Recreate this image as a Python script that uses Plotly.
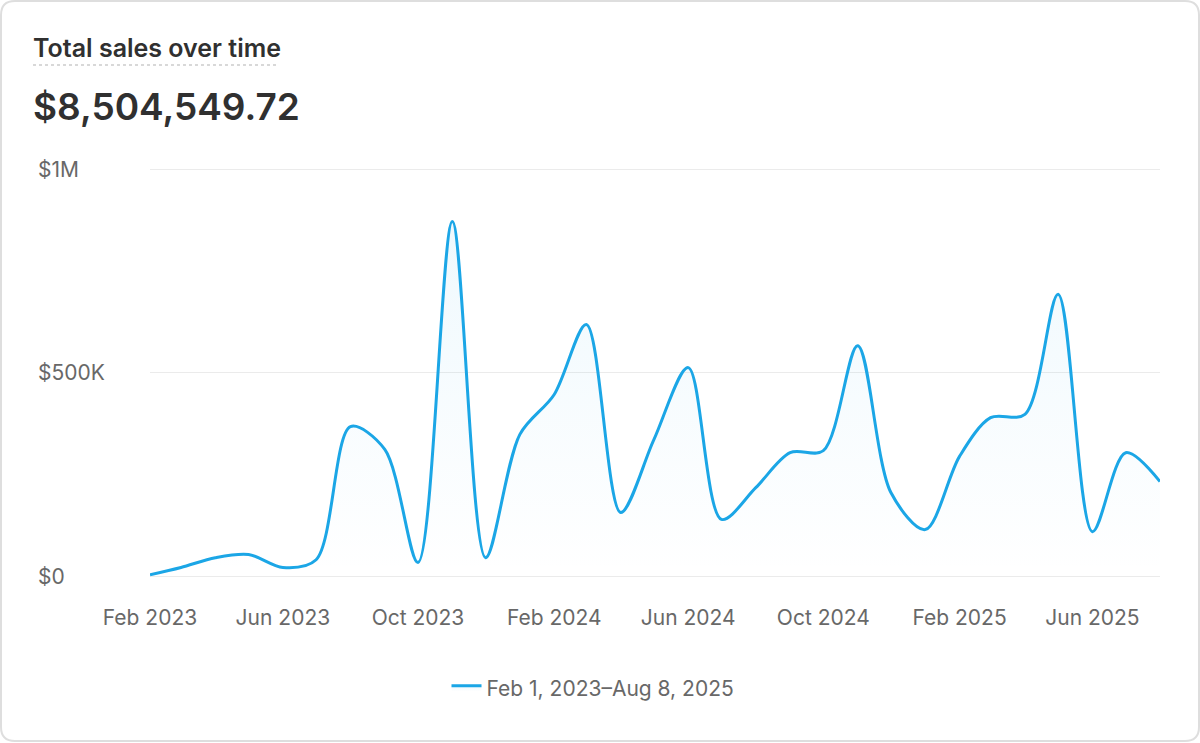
import plotly.graph_objects as go

# ---- data (monthly totals) ----
months = [
    "2023-02-01", "2023-03-01", "2023-04-01", "2023-05-01", "2023-06-01", "2023-07-01",
    "2023-08-01", "2023-09-01", "2023-10-01", "2023-11-01", "2023-12-01",
    "2024-01-01", "2024-02-01", "2024-03-01", "2024-04-01", "2024-05-01", "2024-06-01",
    "2024-07-01", "2024-08-01", "2024-09-01", "2024-10-01", "2024-11-01", "2024-12-01",
    "2025-01-01", "2025-02-01", "2025-03-01", "2025-04-01", "2025-05-01", "2025-06-01",
    "2025-07-01", "2025-08-01",
]
sales = [
    3000, 21000, 45000, 53000, 21000, 40000,
    367000, 311000, 33000, 871000, 45000,
    348000, 446000, 618000, 156000, 335000, 512000,
    139000, 217000, 303000, 308000, 566000, 205000,
    114000, 294000, 389000, 397000, 692000, 109000,
    303000, 232000,
]
series_name = "Feb 1, 2023–Aug 8, 2025"
title_text = "Total sales over time"
total_text = "$8,504,549.72"
y_tickvals = [0, 500000, 1000000]
y_ticktext = ["$0", "$500K", "$1M"]

# ---- layout geometry (pixels) ----
W, H = 1200, 743
L, R, T, B = 150, 1160, 160, 585
PW, PH = R - L, B - T


def px(xp):
    return (xp - L) / PW


def py(yp):
    return (B - yp) / PH


BLUE = "#1ba6e6"
GREY = "#686868"
DARK = "#303030"
FONT = "Inter, Noto Sans, sans-serif"

fig = go.Figure()
fig.add_trace(go.Scatter(
    x=months, y=sales, name=series_name, mode="lines",
    line=dict(color=BLUE, width=3, shape="spline", smoothing=0.9),
    fill="tozeroy",
    fillgradient=dict(type="vertical",
                      colorscale=[[0, "rgba(27,166,230,0.0)"], [1, "rgba(27,166,230,0.07)"]]),
    hoverinfo="x+y",
))

# y tick labels (left aligned like the reference)
annotations = []
for v, t in zip(y_tickvals, y_ticktext):
    annotations.append(dict(x=px(36), y=v, xref="paper", yref="y", text=t,
                            showarrow=False, xanchor="left", yanchor="middle",
                            font=dict(family=FONT, size=21, color=GREY)))
# title + headline number
annotations.append(dict(x=px(31), y=py(48), xref="paper", yref="paper", text=title_text,
                        showarrow=False, xanchor="left", yanchor="middle",
                        font=dict(family=FONT, size=25, color=DARK, weight=600)))
annotations.append(dict(x=px(31), y=py(106), xref="paper", yref="paper", text=total_text,
                        showarrow=False, xanchor="left", yanchor="middle",
                        font=dict(family=FONT, size=37, color=DARK, weight=600)))

# rounded card border
r = 14
x0, x1, y0, y1 = 1, W - 1, 1, H - 2


def P(xp, yp):
    return f"{px(xp)},{py(yp)}"


card = (f"M {P(x0 + r, y0)} L {P(x1 - r, y0)} Q {P(x1, y0)} {P(x1, y0 + r)} "
        f"L {P(x1, y1 - r)} Q {P(x1, y1)} {P(x1 - r, y1)} "
        f"L {P(x0 + r, y1)} Q {P(x0, y1)} {P(x0, y1 - r)} "
        f"L {P(x0, y0 + r)} Q {P(x0, y0)} {P(x0 + r, y0)} Z")
shapes = [
    dict(type="path", path=card, xref="paper", yref="paper",
         line=dict(color="#dedede", width=2), fillcolor="rgba(0,0,0,0)", layer="below"),
    dict(type="line", xref="paper", yref="paper", x0=px(33), x1=px(278), y0=py(65), y1=py(65),
         line=dict(color="#cccccc", width=1.5, dash="dot")),
]

fig.update_layout(
    width=W, height=H,
    margin=dict(l=L, r=W - R, t=T, b=H - B, pad=0),
    paper_bgcolor="white", plot_bgcolor="white",
    font=dict(family=FONT, size=21, color=GREY),
    showlegend=True,
    legend=dict(orientation="h", x=px(593), xanchor="center", y=py(688), yanchor="middle",
                font=dict(family=FONT, size=21, color=GREY), bgcolor="rgba(0,0,0,0)"),
    xaxis=dict(type="date", range=["2023-02-01", "2025-08-01"],
               tick0="2023-02-01", dtick="M4", tickformat="%b %Y",
               showgrid=False, zeroline=False, showline=False,
               ticks="outside", ticklen=14, tickcolor="rgba(0,0,0,0)",
               tickfont=dict(family=FONT, size=21, color=GREY)),
    yaxis=dict(range=[-22113, 1022110], tickvals=y_tickvals, showticklabels=False,
               showgrid=True, gridcolor="#ebebeb", gridwidth=1, zeroline=False, showline=False),
    annotations=annotations,
    shapes=shapes,
    hovermode="x",
)

fig.write_html("out.html", config={"displayModeBar": False},
               post_script="document.body.style.margin='0';document.body.style.overflow='hidden';")
